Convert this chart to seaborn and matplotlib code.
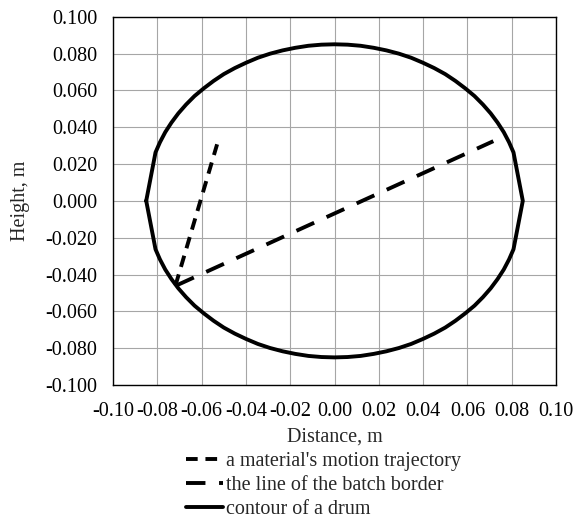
import numpy as np
import pandas as pd
import matplotlib
matplotlib.use('Agg')
import matplotlib.pyplot as plt
import seaborn as sns

# drum contour, upper half from left to right
upper_x = [-0.085, -0.0808, -0.0788, -0.0764, -0.0736, -0.0705, -0.0670, -0.0632, -0.0590,
           -0.0546, -0.0500, -0.0450, -0.0399, -0.0346, -0.0291, -0.0234, -0.0177, -0.0118,
           -0.0059, 0.0, 0.0059, 0.0118, 0.0177, 0.0234, 0.0291, 0.0346, 0.0399, 0.0450,
           0.0500, 0.0546, 0.0590, 0.0632, 0.0670, 0.0705, 0.0736, 0.0764, 0.0788, 0.0808,
           0.085]
upper_y = [0.0, 0.0263, 0.0318, 0.0373, 0.0425, 0.0475, 0.0523, 0.0569, 0.0611,
           0.0651, 0.0688, 0.0721, 0.0750, 0.0777, 0.0799, 0.0817, 0.0831, 0.0842,
           0.0848, 0.085, 0.0848, 0.0842, 0.0831, 0.0817, 0.0799, 0.0777, 0.0750, 0.0721,
           0.0688, 0.0651, 0.0611, 0.0569, 0.0523, 0.0475, 0.0425, 0.0373, 0.0318, 0.0263,
           0.0]
# lower half is the mirror image, drawn back from right to left
contour_x = upper_x + upper_x[::-1][1:]
contour_y = upper_y + [-v for v in upper_y[::-1][1:]]

trajectory_x = [-0.0718, -0.0530]
trajectory_y = [-0.0460, 0.0307]

border_x = [-0.0715, 0.0717]
border_y = [-0.0460, 0.0324]

labels = ["a material's motion trajectory", "the line of the batch border", "contour of a drum"]
ticks = [-0.10, -0.08, -0.06, -0.04, -0.02, 0.0, 0.02, 0.04, 0.06, 0.08, 0.10]

df = pd.concat([
    pd.DataFrame({'x': trajectory_x, 'y': trajectory_y, 'series': labels[0]}),
    pd.DataFrame({'x': border_x, 'y': border_y, 'series': labels[1]}),
    pd.DataFrame({'x': contour_x, 'y': contour_y, 'series': labels[2]}),
], ignore_index=True)

sns.set_style('white')
plt.rcParams['font.family'] = ['Liberation Serif', 'DejaVu Serif']
plt.rcParams['axes.unicode_minus'] = False
fs = 14.5

fig = plt.figure(figsize=(5.75, 5.21), dpi=100)
ax = fig.add_axes([0.1965, 0.261, 0.7705, 0.707])

sns.lineplot(data=df, x='x', y='y', style='series', style_order=labels,
             dashes={labels[0]: (3.0, 2.0), labels[1]: (5.0, 3.5), labels[2]: ''},
             color='black', linewidth=2.8, sort=False, estimator=None, ax=ax, legend=True)

ax.set_xlim(-0.1, 0.1)
ax.set_ylim(-0.1, 0.1)
ax.set_xticks(ticks)
ax.set_yticks(ticks)
ax.set_xticklabels(['%.2f' % t for t in ticks])
ax.set_yticklabels(['%.3f' % t for t in ticks])
ax.grid(True, color='#a6a6a6', linewidth=0.8)
ax.tick_params(axis='both', length=0, labelsize=fs, colors='black')
ax.tick_params(axis='y', pad=11.5)
ax.tick_params(axis='x', pad=12)
for s in ax.spines.values():
    s.set_color('black')
    s.set_linewidth(1.0)
ax.set_xlabel('Distance, m', fontsize=fs, labelpad=5)
ax.set_ylabel('Height, m', fontsize=fs, labelpad=11)

handles, lbls = ax.get_legend_handles_labels()
ax.legend_.remove()
fig.legend(handles, lbls, loc='upper left', bbox_to_anchor=(186 / 575, 1 - 452 / 521),
           frameon=False, fontsize=fs, handlelength=1.85, handletextpad=0.15,
           labelspacing=0.24, borderpad=0, borderaxespad=0)

fig.savefig('out.png', dpi=100)
